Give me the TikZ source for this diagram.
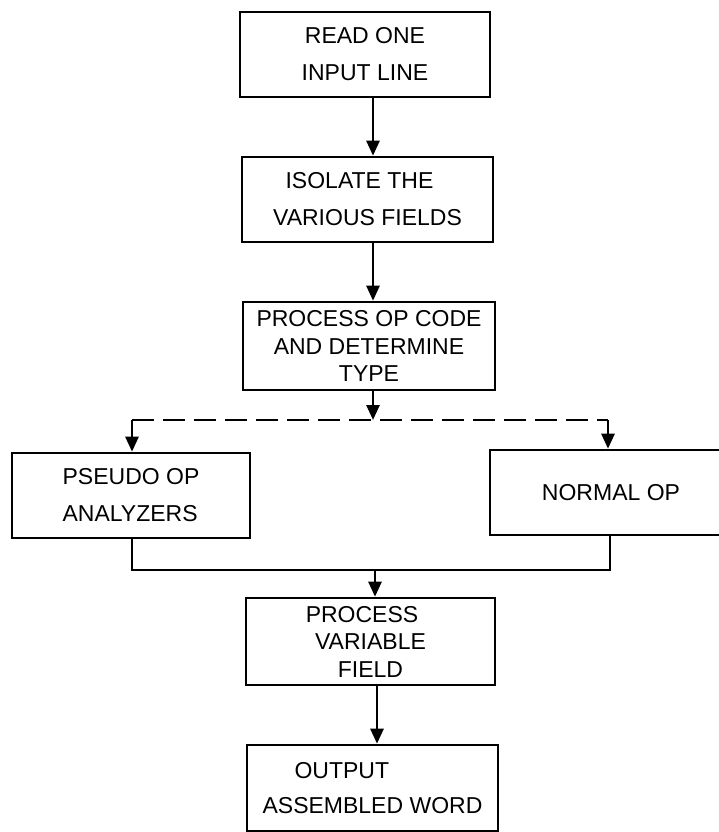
\documentclass[tikz,border=0pt]{standalone}
\usepackage{fontspec}
\setmainfont{Liberation Sans}
\usetikzlibrary{arrows.meta}

\tikzset{
  box/.style={draw, line width=2.6pt, rectangle, inner sep=0pt,
    font=\fontsize{23}{37}\selectfont, align=center},
  tightbox/.style={box, font=\fontsize{23}{27.5}\selectfont},
  flow/.style={line width=2.6pt, -{Triangle[length=15pt,width=13pt]}},
  link/.style={line width=2.6pt},
  split/.style={line width=2.6pt, dash pattern=on 22pt off 9pt}
}

\begin{document}
\begin{tikzpicture}[x=1pt, y=-1pt]
  \useasboundingbox (0,0) rectangle (719,832);
  \fill[white] (0,0) rectangle (719,832);
  \begin{scope}
  \clip (0,0) rectangle (719,832);

  % process boxes
  \node[box, minimum width=250pt, minimum height=85pt] (read) at (365,54.5)
    {READ ONE\\INPUT LINE};
  \node[box, minimum width=251pt, minimum height=85pt] (isolate) at (367.5,199.5)
    {ISOLATE THE\hspace*{16pt}\\VARIOUS FIELDS};
  \node[tightbox, minimum width=252pt, minimum height=88pt] (opcode) at (369,346)
    {PROCESS OP CODE\\AND DETERMINE\\TYPE};
  \node[box, align=left, minimum width=238pt, minimum height=85pt] (pseudo) at (131,495.5)
    {PSEUDO OP\\ANALYZERS};
  \node[box, minimum width=250pt, minimum height=85pt] (normal) at (615,492.5)
    {\hspace*{-8pt}NORMAL OP};
  \node[tightbox, minimum width=249pt, minimum height=87pt] (variable) at (370.5,641.5)
    {PROCESS\hspace*{17pt}\\VARIABLE\\FIELD};
  \node[box, align=left, minimum width=251pt, minimum height=86pt] (output) at (372.5,788)
    {\hspace*{32pt}OUTPUT\\[-2pt]ASSEMBLED WORD};

  % routing points
  \coordinate (xa) at (373,0);
  \coordinate (xm) at (375,0);
  \coordinate (xo) at (377,0);
  \coordinate (xl) at (132,0);
  \coordinate (xr) at (608,0);
  \coordinate (xn) at (610,0);
  \coordinate (ysplit) at (0,420);
  \coordinate (yjoin) at (0,570);

  % main flow
  \draw[flow] (read.south -| xa) -- (isolate.north -| xa);
  \draw[flow] (isolate.south -| xa) -- (opcode.north -| xa);
  \draw[flow] (opcode.south -| xa) -- (xa |- ysplit);

  % dashed branch to the two analyzers
  \draw[split] (xl |- ysplit) -- (xr |- ysplit);
  \draw[flow] (xl |- ysplit) -- (pseudo.north -| xl);
  \draw[flow] (xr |- ysplit) -- (normal.north -| xr);

  % join of the two branches
  \draw[link] (pseudo.south -| xl) -- (xl |- yjoin) -- (xn |- yjoin) -- (normal.south -| xn);
  \draw[flow] (xm |- yjoin) -- (variable.north -| xm);
  \draw[flow] (variable.south -| xo) -- (output.north -| xo);
  \end{scope}
\end{tikzpicture}
\end{document}
